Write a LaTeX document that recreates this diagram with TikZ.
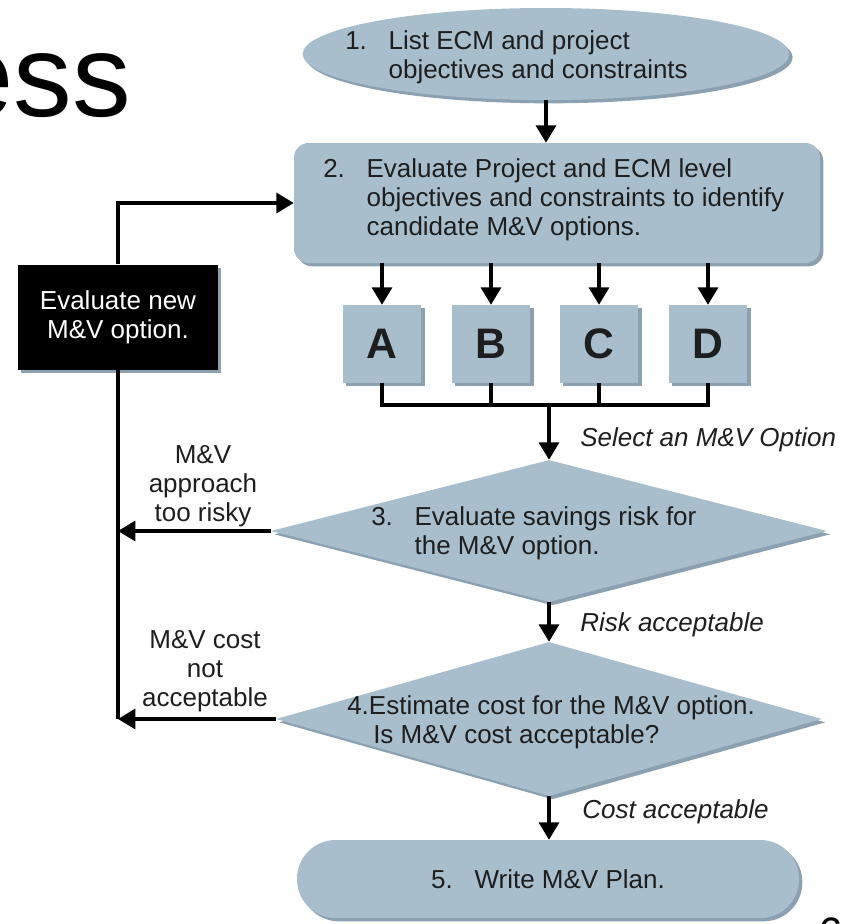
\documentclass[tikz,border=0pt]{standalone}
\usepackage{fontspec}
\setmainfont{Liberation Sans}
\usetikzlibrary{arrows.meta,shapes.geometric,shadows}
\definecolor{stepfill}{HTML}{A9BECD}
\definecolor{stepshade}{HTML}{7E97AA}
\definecolor{inktext}{HTML}{1E1E1E}
\newcommand{\stepfont}{\fontsize{19.5}{21.75}\selectfont}
\newcommand{\stepno}[1]{\makebox[32.5pt][l]{#1}}
\newcommand{\stepindent}{\hspace*{32.5pt}}

\tikzset{
  stepshape/.style={fill=stepfill, draw=none, inner sep=0pt,
    drop shadow={shadow xshift=2.5pt, shadow yshift=-2.5pt, fill=stepshade, opacity=0.9}},
  steptext/.style={anchor=west, align=left, inner sep=0pt, text=inktext, font=\stepfont},
  optbox/.style={stepshape, minimum width=59pt, minimum height=58.5pt, text=inktext,
    font=\fontsize{32}{36}\selectfont\bfseries},
  flow/.style={line width=2.4pt},
  flowarr/.style={flow, -{Triangle[width=15pt,length=13pt]}},
  condtext/.style={anchor=west, inner sep=0pt, text=inktext, font=\stepfont\itshape},
  sidetext/.style={align=center, inner sep=0pt, text=inktext, font=\stepfont},
}

\begin{document}
\begin{tikzpicture}[x=0.75pt,y=-0.75pt]
\path[use as bounding box] (0,0) rectangle (843,924);
\clip (0,0) rectangle (843,924);
\node[anchor=base east, inner sep=0pt, font=\fontsize{88}{88}\selectfont] (title) at (131,116) {ess};
\node[anchor=base west, inner sep=0pt, font=\fontsize{33}{33}\selectfont] (pageno) at (818,948) {6};

% steps
\node[stepshape, ellipse, minimum width=365pt, minimum height=69pt] (s1) at (546,54) {};
\node[steptext] (s1txt) at (345,57) {\stepno{1.}List ECM and project\\\stepindent objectives and constraints};
\node[stepshape, rounded corners=11pt, minimum width=394.5pt, minimum height=90pt] (s2) at (557,203) {};
\node[steptext] (s2txt) at (323,200) {\stepno{2.}Evaluate Project and ECM level\\\stepindent objectives and constraints to identify\\\stepindent candidate M\&V options.};
\node[optbox] (A) at (382,344) {A};
\node[optbox] (B) at (491,344) {B};
\node[optbox] (C) at (599,344) {C};
\node[optbox] (D) at (708,344) {D};
\node[stepshape, diamond, minimum width=417pt, minimum height=106.5pt] (s3) at (549,531) {};
\node[steptext] (s3txt) at (371,533) {\stepno{3.}Evaluate savings risk for\\\stepindent the M\&V option.};
\node[stepshape, diamond, minimum width=409.5pt, minimum height=115.5pt] (s4) at (549,719) {};
\node[steptext] (s4txt) at (347,722) {4.Estimate cost for the M\&V option.\\\hspace*{19.5pt}Is M\&V cost acceptable?};
\node[stepshape, rounded corners=29pt, minimum width=376.5pt, minimum height=58.5pt,
  text=inktext, font=\stepfont] (s5) at (548,879) {\stepno{5.}Write M\&V Plan.};
\node[stepshape, fill=black, minimum width=150pt, minimum height=78.75pt, align=center,
  text=white, font=\stepfont] (newopt) at (118,317) {Evaluate new\\M\&V option.};

% labels
\node[condtext] (selopt) at (580,440) {Select an M\&V Option};
\node[condtext] (riskok) at (580,625) {Risk acceptable};
\node[condtext] (costok) at (582,812) {Cost acceptable};
\node[sidetext] (lbrisky) at (203,486) {M\&V\\approach\\too risky};
\node[sidetext] (lbcost) at (205,671) {M\&V cost\\not\\acceptable};

% connectors
\draw[flowarr] (s1.south) -- (s1.south |- s2.north);
\foreach \o in {A,B,C,D}
  \draw[flowarr] (s2.south -| \o.north) -- (\o.north);
\coordinate (merge) at (s3.north |- 0,405);
\draw[flow] (A.south) |- (merge) -| (D.south);
\draw[flow] (B.south) -- (B.south |- merge);
\draw[flow] (C.south) -- (C.south |- merge);
\draw[flowarr] (merge) -- (s3.north);
\draw[flowarr] (s3.south) -- (s3.south |- s4.north);
\draw[flowarr] (s4.south) -- (s4.south |- s5.north);
\coordinate (loopcorner) at (newopt.south |- s4.west);
\draw[flowarr] (s3.west) -- (s3.west -| newopt.south);
\draw[flowarr] (s4.west) -- (loopcorner);
\draw[flow] (loopcorner) -- (newopt.south);
\draw[flowarr] (newopt.north) |- (s2.west);
\end{tikzpicture}
\end{document}
